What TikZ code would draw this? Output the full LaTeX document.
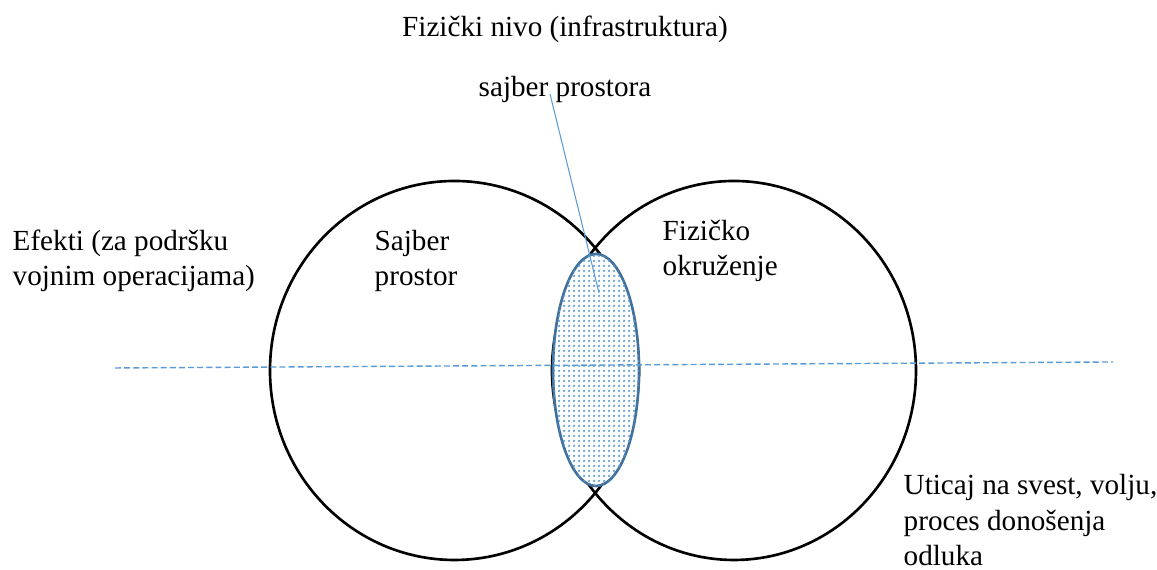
\documentclass[tikz,border=0pt]{standalone}
\usepackage{fontspec}
\setmainfont{Liberation Serif}
\usetikzlibrary{patterns.meta}
\definecolor{dashblue}{HTML}{5B9BD5}
\definecolor{edgeblue}{HTML}{41719C}

\tikzdeclarepattern{
	name=finedots,
	type=uncolored,
	bounding box={(0pt,0pt) and (1.3pt,1.3pt)},
	tile size={(1.3pt,1.3pt)},
	code={\fill (0.65pt,0.65pt) circle (0.38pt);}
}

\begin{document}
\begin{tikzpicture}[
	lbl/.style={inner sep=0pt, align=left, font=\fontsize{8.3pt}{10.2pt}\selectfont},
	ring/.style={line width=0.75pt}
]
	%%%%% START %%%%%
	\useasboundingbox (0, 0) rectangle (11.57, 5.70);

	% the two domains
	\draw[ring] (4.545, 1.995) ellipse (1.845 and 1.895);
	\draw[ring] (7.34, 1.995) ellipse (1.82 and 1.895);

	% overlap of the domains
	\draw[edgeblue, line width=0.75pt, fill=white, postaction={pattern=finedots, pattern color=dashblue}] (5.96, 2.0) ellipse (0.43 and 1.16);

	% dashed middle line
	\draw[dashblue, line width=0.4pt, dash pattern=on 1.7pt off 0.9pt] (1.15, 2.02) -- (11.13, 2.08);

	% labels (multi-line ones sit on their last line)
	\node[lbl, anchor=base] (nivo) at (5.65, 5.33) {Fizički nivo (infrastruktura)};
	\node[lbl, anchor=base] (presek) at (5.65, 4.73) {sajber prostora};
	\node[lbl, anchor=base west] (efekti) at (0.12, 2.84) {Efekti (za podršku\\vojnim operacijama)};
	\node[lbl, anchor=base west] (sajber) at (3.74, 2.84) {Sajber\\prostor};
	\node[lbl, anchor=base west] (fizicko) at (6.62, 2.94) {Fizičko\\okruženje};
	\node[lbl, anchor=base west] (uticaj) at (9.03, 0.04) {Uticaj na svest, volju,\\proces donošenja\\odluka};

	% pointer into the overlap
	\coordinate (vrh) at (5.99, 2.77);
	\draw[dashblue, line width=0.3pt] ([xshift=-0.15cm, yshift=0.03cm]presek.base) -- (vrh);

	%%%%% END %%%%%
\end{tikzpicture}
\end{document}
